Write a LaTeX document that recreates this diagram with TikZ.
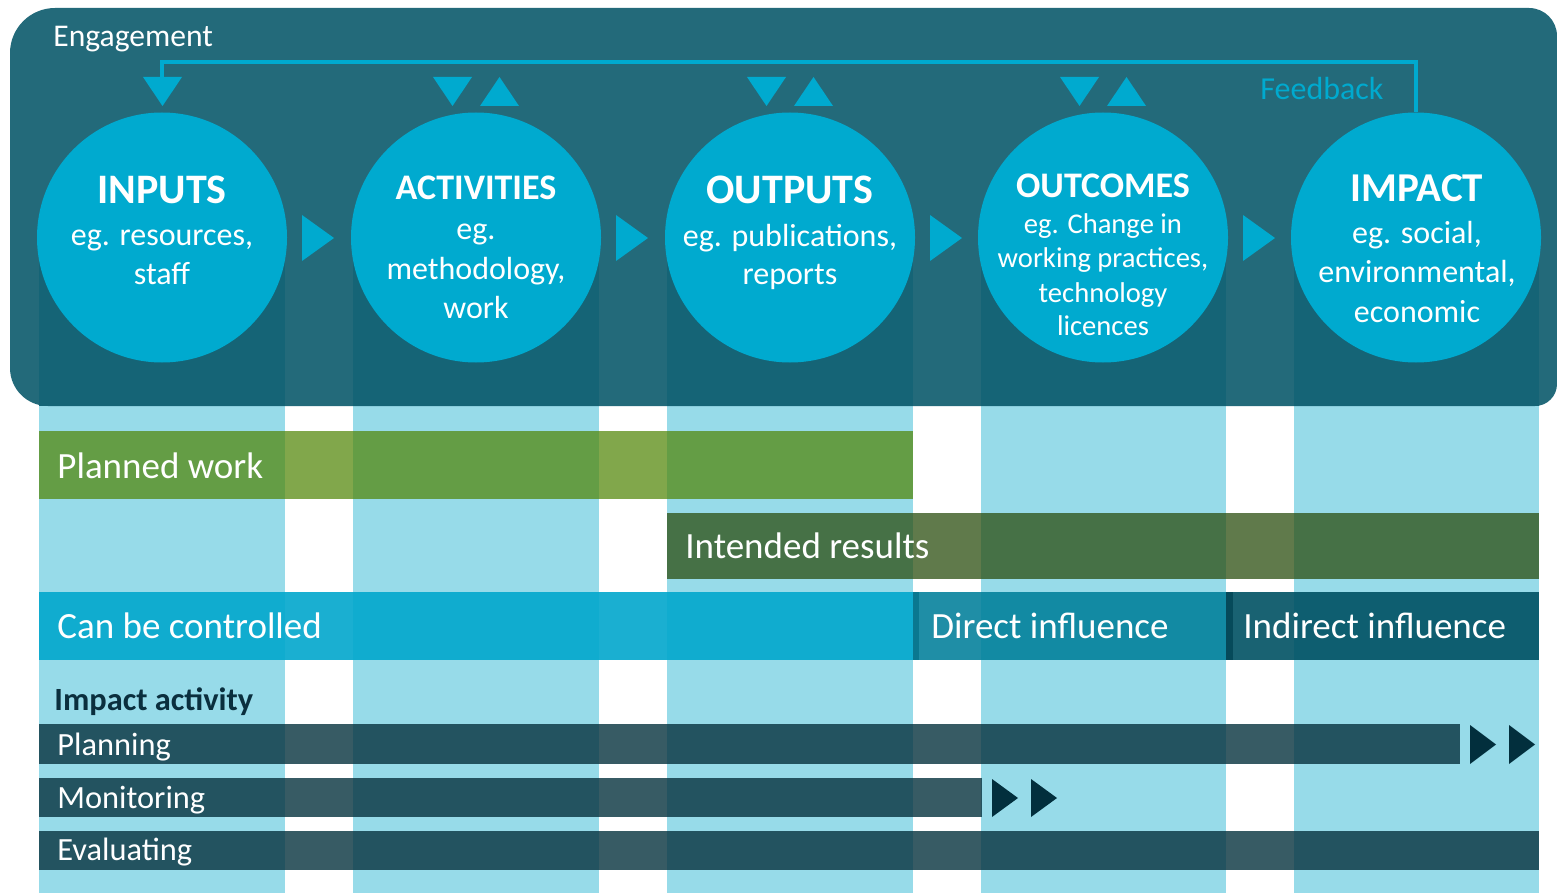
\documentclass[tikz,border=0pt]{standalone}
\usepackage{fontspec}
\setmainfont{Carlito}
\definecolor{boxc}{RGB}{35,106,122}
\definecolor{boxcol}{RGB}{21,100,118}
\definecolor{cyanc}{RGB}{0,170,207}
\definecolor{lightb}{RGB}{151,219,233}
\definecolor{greenA}{RGB}{81,134,6}
\definecolor{greenB}{RGB}{44,78,16}
\definecolor{ctrlc}{RGB}{2,167,205}
\definecolor{directc}{RGB}{0,127,154}
\definecolor{indirectc}{RGB}{0,81,99}
\definecolor{directs}{RGB}{8,118,142}
\definecolor{indirects}{RGB}{4,72,88}
\definecolor{actbar}{RGB}{6,50,62}
\definecolor{darktri}{RGB}{2,47,61}
\definecolor{navy}{RGB}{10,47,62}
\tikzset{
  circ/.style={circle, fill=cyanc, minimum size=125pt, inner sep=0pt},
  ttlbig/.style={text=white, anchor=base, inner sep=0pt, font=\fontsize{21}{25}\selectfont\bfseries},
  ttlsmall/.style={text=white, anchor=base, inner sep=0pt, font=\fontsize{18}{22}\selectfont\bfseries},
  bdy/.style={text=white, anchor=base, inner sep=0pt, font=\fontsize{16}{19}\selectfont},
  bdysmall/.style={text=white, anchor=base, inner sep=0pt, font=\fontsize{14.3}{17}\selectfont},
  barlbl/.style={text=white, anchor=base west, inner sep=0pt, font=\fontsize{18.5}{22}\selectfont},
  actlbl/.style={text=white, anchor=base west, inner sep=0pt, font=\fontsize{16.2}{19}\selectfont},
  tri/.style={fill=cyanc},
  dtri/.style={fill=darktri},
  fbline/.style={draw=cyanc, line width=2pt},
}
\begin{document}
\begin{tikzpicture}[x=0.5pt, y=-0.5pt]
\useasboundingbox (0,0) rectangle (1557,893);
\fill[white] (0,0) rectangle (1557,893);
% light columns
\foreach \a/\b in {39/285, 353/599, 667/913, 981/1226, 1294/1539}{
  \fill[lightb] (\a,400) rectangle (\b,893);
}
% engagement box
\fill[boxc] (10,53) arc[start angle=180, end angle=270, radius=45]
  -- (1529,8) arc[start angle=270, end angle=360, radius=28]
  -- (1557,384) arc[start angle=0, end angle=90, radius=22]
  -- (48,406) arc[start angle=90, end angle=180, radius=38] -- cycle;
\foreach \a/\b in {39/285, 353/599, 667/913, 981/1226, 1294/1539}{
  \fill[boxcol] (\a,262) rectangle (\b,406);
}
\node[text=white, anchor=base west, inner sep=0pt, font=\fontsize{15.8}{19}\selectfont] (eng) at (53,47) {Engagement};
\node[text=cyanc, anchor=base west, inner sep=0pt, font=\fontsize{16}{19}\selectfont] (fbk) at (1260,100) {Feedback};
% circles
\node[circ] (inp) at (162,237.5) {};
\node[circ] (act) at (476,237.5) {};
\node[circ] (out) at (790,237.5) {};
\node[circ] (oc) at (1103,237.5) {};
\node[circ] (imp) at (1416,237.5) {};
% feedback connector
\coordinate (fbL) at (162,62);
\coordinate (fbE) at (162,78);
\draw[fbline] (imp.north) |- (fbL) -- (fbE);
\fill[tri] (143,77) -- (182,77) -- (162.5,106) -- cycle;
% up/down triangles
\foreach \c in {476,790,1103}{
  \fill[tri] (\c-43,77) -- (\c-4,77) -- (\c-23.5,106) -- cycle;
  \fill[tri] (\c+4,106) -- (\c+43,106) -- (\c+23.5,77) -- cycle;
}
% right triangles between circles
\foreach \c in {162,476,790,1103}{
  \fill[tri] (\c+140,215) -- (\c+172,238) -- (\c+140,261) -- cycle;
}
% circle texts
\node[ttlbig] (inp-t) at (162,204) {INPUTS};
\node[bdy] (inp-1) at (162,246) {eg. resources,};
\node[bdy] (inp-2) at (162,285) {staff};
\node[ttlsmall] (act-t) at (476,200) {ACTIVITIES};
\node[bdy] (act-1) at (476,240) {eg.};
\node[bdy] (act-2) at (476,279) {methodology,};
\node[bdy] (act-3) at (476,318) {work};
\node[ttlbig] (out-t) at (790,204) {OUTPUTS};
\node[bdy] (out-1) at (790,247) {eg. publications,};
\node[bdy] (out-2) at (790,285) {reports};
\node[ttlsmall] (oc-t) at (1103,198) {OUTCOMES};
\node[bdysmall] (oc-1) at (1103,234) {eg. Change in};
\node[bdysmall] (oc-2) at (1103,268) {working practices,};
\node[bdysmall] (oc-3) at (1103,302) {technology};
\node[bdysmall] (oc-4) at (1103,335) {licences};
\node[ttlbig, font=\fontsize{20.5}{24}\selectfont\bfseries] (imp-t) at (1417,202) {IMPACT};
\node[bdy] (imp-1) at (1417,243) {eg. social,};
\node[bdy] (imp-2) at (1417,283) {environmental,};
\node[bdy] (imp-3) at (1417,322) {economic};
% bars
\fill[greenA, fill opacity=0.72] (39,431) rectangle (913,499);
\node[barlbl] (planned) at (57,478) {Planned work};
\fill[greenB, fill opacity=0.75] (667,513) rectangle (1539,579);
\node[barlbl] (intended) at (685,558) {Intended results};
\fill[ctrlc, fill opacity=0.9] (39,592) rectangle (913,660);
\fill[directc, fill opacity=0.88] (913,592) rectangle (1226,660);
\fill[directs, fill opacity=0.9] (913,592) rectangle (919,660);
\fill[indirectc, fill opacity=0.9] (1226,592) rectangle (1539,660);
\fill[indirects, fill opacity=0.9] (1226,592) rectangle (1233,660);
\node[barlbl] (ctrl) at (57,638) {Can be controlled};
\node[barlbl] (direct) at (931,638) {Direct influence};
\node[barlbl] (indirect) at (1243,638) {Indirect influence};
\node[text=navy, anchor=base west, inner sep=0pt, font=\fontsize{16.2}{19}\selectfont\bfseries] (impact) at (54,710) {Impact activity};
\fill[actbar, fill opacity=0.8] (39,724) rectangle (1460,764);
\fill[dtri] (1470,725) -- (1496,744.5) -- (1470,764) -- cycle;
\fill[dtri] (1509,725) -- (1535,744.5) -- (1509,764) -- cycle;
\node[actlbl] (planning) at (57,755) {Planning};
\fill[actbar, fill opacity=0.8] (39,778) rectangle (982,817);
\fill[dtri] (992,779) -- (1018,798) -- (992,817) -- cycle;
\fill[dtri] (1031,779) -- (1057,798) -- (1031,817) -- cycle;
\node[actlbl] (monitoring) at (57,808) {Monitoring};
\fill[actbar, fill opacity=0.8] (39,831) rectangle (1539,870);
\node[actlbl] (evaluating) at (57,860) {Evaluating};
\end{tikzpicture}
\end{document}
